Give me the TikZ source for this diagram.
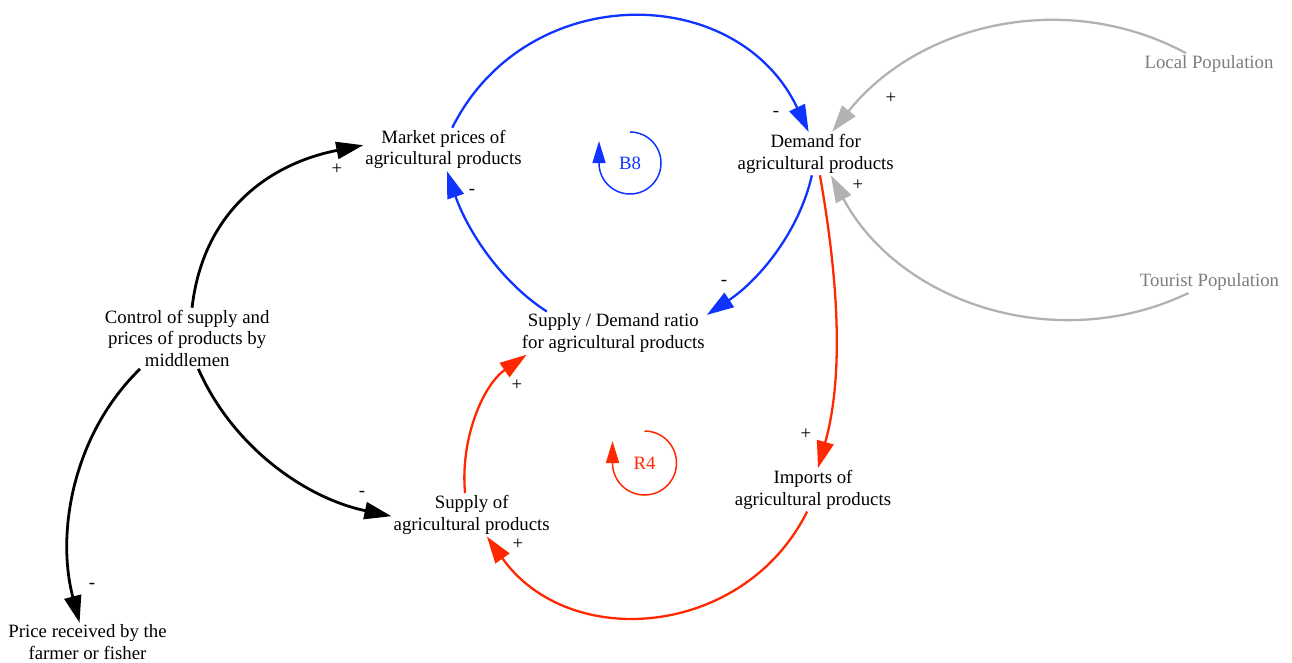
\documentclass[tikz,border=0pt]{standalone}
\usepackage{fontspec}
\setmainfont{Liberation Serif}
\usetikzlibrary{arrows.meta}
\definecolor{cldblue}{RGB}{16,52,255}
\definecolor{cldred}{RGB}{255,40,0}
\definecolor{cldgrey}{RGB}{178,178,178}
\definecolor{cldgreytext}{RGB}{125,125,125}

\begin{document}
\begin{tikzpicture}[x=1pt,y=-1pt,
  var/.style={font=\fontsize{18.8}{21.7}\selectfont, align=center, inner sep=2pt},
  pol/.style={font=\fontsize{18.8}{21.7}\selectfont, inner sep=0pt},
  link/.style={line width=2.3pt, -{Triangle[length=27pt,width=17pt]}},
  thick link/.style={link, line width=2.8pt},
  loop arrow/.style={line width=1.5pt, -{Triangle[length=22pt,width=13pt]}}]

\useasboundingbox (0,0) rectangle (1292,662);

% variables
\node[var] (mp) at (443.5,149.4) {Market prices of\\agricultural products};
\node[var] (dm) at (815.7,153.6) {Demand for\\agricultural products};
\node[var, text=cldgreytext] (lp) at (1209,63.9) {Local Population};
\node[var, text=cldgreytext] (tp) at (1209.5,282.3) {Tourist Population};
\node[var] (sd) at (613.3,333.1) {Supply / Demand ratio\\for agricultural products};
\node[var] (ctrl) at (187.2,338.3) {Control of supply and\\prices of products by\\middlemen};
\node[var] (so) at (471.7,514.8) {Supply of\\agricultural products};
\node[var] (im) at (813,489.8) {Imports of\\agricultural products};
\node[var] (pr) at (87.5,642.4) {Price received by the\\farmer or fisher};

% loop markers
\node[var, text=cldblue] (b8) at (630,163) {B8};
\node[var, text=cldred] (r4) at (644.5,463) {R4};
\draw[loop arrow, cldblue] ([yshift=31pt]b8.center) arc[start angle=90, end angle=-180, radius=31pt] -- ++(0pt,22pt);
\draw[loop arrow, cldred] ([yshift=32pt]r4.center) arc[start angle=90, end angle=-180, radius=32pt] -- ++(0pt,22pt);

% balancing loop (blue)
\draw[link, cldblue] (mp.68) .. controls (526,-20) and (737,-19) .. (dm.108);
\draw[link, cldblue] (sd.162) .. controls (498,280) and (466,227) .. (mp.-81);
\draw[link, cldblue] (dm.-100) .. controls (799,232) and (759,280) .. (sd.11);

% reinforcing loop (red)
\draw[link, cldred] (dm.-79) .. controls (837,272) and (845,372) .. (im.77);
\draw[link, cldred] (im.-105) .. controls (744,638) and (569,652) .. (so.-55);
\draw[link, cldred] (so.107) .. controls (460,439) and (483,385) .. (sd.-166);

% exogenous populations
\draw[link, cldgrey] (lp.155) .. controls (1065,-12) and (918,24) .. (dm.53);
\draw[link, cldgrey] (tp.-153) .. controls (1057,356) and (899,303) .. (dm.-55);

% middlemen
\draw[thick link] (ctrl.81) .. controls (203,212) and (268,164) .. (mp.177);
\draw[thick link] (ctrl.-70) .. controls (232.5,446.5) and (305,498) .. (so.181);
\draw[thick link] (ctrl.-147) .. controls (74,433) and (55.5,531) .. (pr.112);

% link polarities
\node[pol] (p1) at (776,114) {-};
\node[pol] (p2) at (891,98) {+};
\node[pol] (p3) at (858,185) {+};
\node[pol] (p4) at (472,192) {-};
\node[pol] (p5) at (724,283) {-};
\node[pol] (p6) at (337,169) {+};
\node[pol] (p7) at (362,494) {-};
\node[pol] (p8) at (92,586) {-};
\node[pol] (p9) at (806,434) {+};
\node[pol] (p10) at (518,544) {+};
\node[pol] (p11) at (517,385) {+};
\end{tikzpicture}
\end{document}
